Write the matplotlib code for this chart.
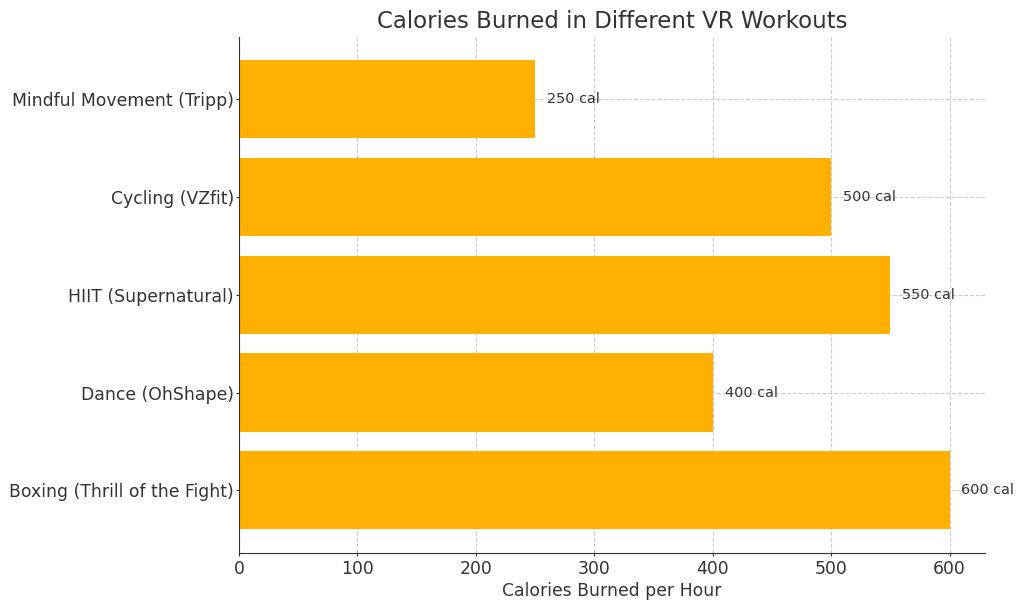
import matplotlib
matplotlib.use('Agg')
import matplotlib.pyplot as plt

# data
workouts = ["Boxing (Thrill of the Fight)", "Dance (OhShape)", "HIIT (Supernatural)",
            "Cycling (VZfit)", "Mindful Movement (Tripp)"]
calories = [600, 400, 550, 500, 250]

text_color = "#333333"
plt.rcParams['font.family'] = ['DejaVu Sans']
plt.rcParams['text.color'] = text_color
plt.rcParams['axes.labelcolor'] = text_color
plt.rcParams['xtick.color'] = text_color
plt.rcParams['ytick.color'] = text_color

fig, ax = plt.subplots(figsize=(10.24, 6.09), dpi=100)
bars = ax.barh(workouts, calories, color="#FFB000", height=0.8, zorder=2)

# value labels to the right of each bar
for bar, val in zip(bars, calories):
	ax.text(bar.get_width() + 10, bar.get_y() + bar.get_height() / 2, f"{val} cal",
			va='center', ha='left', fontsize=10.4, color=text_color)

ax.set_xlim(0, 630)
ax.set_title("Calories Burned in Different VR Workouts", fontsize=16.5, color=text_color, pad=6.5)
ax.set_xlabel("Calories Burned per Hour", fontsize=12.4, labelpad=3)
ax.tick_params(axis='both', labelsize=12.4, length=2.5, pad=2.5)
ax.tick_params(axis='y', pad=1.2)
ax.grid(True, linestyle='--', color='#cccccc', linewidth=0.8, zorder=0)
ax.set_axisbelow(True)
ax.spines['top'].set_visible(False)
ax.spines['right'].set_visible(False)
for s in ('left', 'bottom'):
	ax.spines[s].set_color(text_color)

fig.subplots_adjust(left=0.2334, right=0.962, top=0.94, bottom=0.092)
plt.savefig("out.png")
